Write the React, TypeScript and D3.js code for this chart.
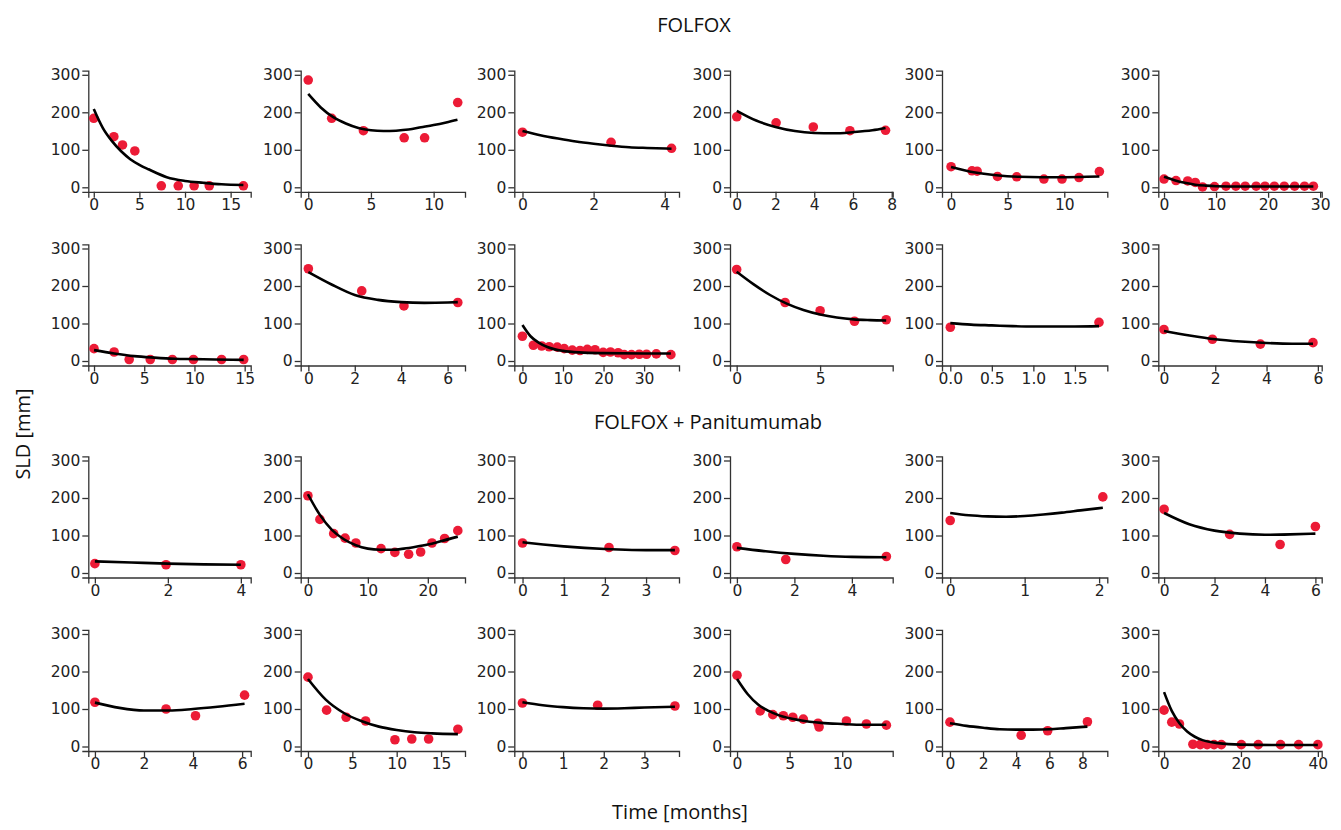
import React, { useEffect, useRef } from 'react';
import * as d3 from 'd3';

// observed SLD per patient (months, mm)
const obsTime = [
  [0, 2.2, 3.15, 4.5, 7.4, 9.26, 11.0, 12.66, 16.4],
  [0, 1.87, 4.4, 7.65, 9.28, 11.92],
  [0, 2.49, 4.19],
  [0, 2.03, 3.95, 5.84, 7.68],
  [0, 1.85, 2.3, 4.1, 5.8, 8.2, 9.8, 11.3, 13.1],
  [0, 2.3, 4.55, 6.0, 7.4, 9.7, 11.9, 13.8, 15.6, 17.7, 19.4, 21.2, 23.1, 25.1, 27, 28.7],
  [0, 2, 3.5, 5.6, 7.8, 9.9, 12.7, 14.9],
  [0, 2.3, 4.12, 6.44],
  [0, 2.7, 4.75, 6.6, 8.6, 10.3, 12.3, 14.2, 16, 17.9, 19.9, 21.7, 23.6, 25.1, 26.9, 28.8, 30.6, 33, 36.6],
  [0, 2.9, 5, 7.06, 8.96],
  [0, 1.79],
  [0, 1.89, 3.76, 5.81],
  [0, 1.95, 4],
  [0, 2, 4.3, 6.2, 8, 12.2, 14.5, 16.8, 18.8, 20.7, 22.8, 25],
  [0, 2.1, 3.7],
  [0, 1.7, 5.2],
  [0, 2.05],
  [0, 2.6, 4.6, 6.0],
  [0, 2.9, 4.1, 6.1],
  [0, 2.1, 4.3, 6.5, 9.8, 11.7, 13.6, 16.9],
  [0, 1.85, 3.75],
  [0, 2.2, 3.4, 4.4, 5.3, 6.3, 7.7, 7.8, 10.4, 12.3, 14.2],
  [0, 4.3, 5.9, 8.3],
  [0, 2, 4, 7.5, 9.4, 11.2, 13, 14.9, 20.1, 24.5, 30.3, 35, 40],
];

const obsSld = [
  [184, 135, 113, 97, 4, 4, 4, 4, 4],
  [286, 184, 151, 132, 132, 226],
  [147, 120, 104],
  [188, 172, 161, 151, 152],
  [55, 44, 43, 29, 28, 22, 22, 26, 42],
  [22, 18, 17, 13, 1, 2, 3, 3, 3, 3, 3, 3, 3, 3, 3, 3],
  [33, 24, 4, 4, 4, 4, 4, 4],
  [246, 187, 147, 156],
  [66, 42, 40, 38, 37, 33, 29, 28, 31, 30, 23, 24, 22, 17, 17, 18, 18, 19, 17],
  [244, 156, 134, 106, 110],
  [90, 103],
  [84, 58, 45, 49],
  [25, 22, 22],
  [206, 143, 105, 93, 80, 65, 55, 50, 56, 80, 92, 113],
  [80, 68, 60],
  [70, 36, 44],
  [140, 203],
  [170, 103, 76, 124],
  [118, 100, 82, 137],
  [185, 97, 78, 68, 18, 20, 20, 46],
  [116, 110, 108],
  [190, 95, 85, 82, 78, 73, 62, 52, 68, 60, 57],
  [65, 30, 42, 66],
  [97, 65, 60, 6, 5, 5, 5, 5, 5, 5, 5, 5, 5],
];

// model fit
const fitTime = [
  [0, 1, 2, 3, 4, 5, 6, 8, 10, 12, 14, 16.4],
  [0, 1, 2, 3, 4, 5, 6, 7, 8, 9, 10, 11, 11.9],
  [0, 0.5, 1, 1.5, 2, 2.5, 3, 3.5, 4.19],
  [0, 1, 2, 3, 4, 5, 6, 7, 7.68],
  [0, 2, 4, 6, 8, 10, 12, 13.1],
  [0, 2, 4, 6, 8, 10, 15, 20, 28.7],
  [0, 2, 4, 6, 8, 10, 12, 14.9],
  [0, 1, 2, 3, 4, 5, 6, 6.44],
  [0, 2, 4, 6, 8, 10, 14, 20, 30, 36.6],
  [0, 1, 2, 3, 4, 5, 6, 7, 8, 8.96],
  [0, 0.25, 0.5, 0.75, 1, 1.25, 1.5, 1.79],
  [0, 1, 2, 3, 4, 5, 5.81],
  [0, 1, 2, 3, 4],
  [0, 2, 4, 6, 8, 10, 12, 14, 16, 18, 20, 22, 25],
  [0, 0.5, 1, 1.5, 2, 2.5, 3, 3.7],
  [0, 1, 2, 3, 4, 5.2],
  [0, 0.25, 0.5, 0.75, 1, 1.25, 1.5, 1.75, 2.05],
  [0, 1, 2, 3, 4, 5, 6],
  [0, 1, 2, 3, 4, 5, 6.1],
  [0, 2, 4, 6, 8, 10, 12, 14, 16.9],
  [0, 0.5, 1, 1.5, 2, 2.5, 3, 3.75],
  [0, 1, 2, 3, 4, 6, 8, 10, 12, 14.2],
  [0, 1, 2, 3, 4, 5, 6, 7, 8.3],
  [0, 2, 4, 6, 8, 10, 14, 20, 30, 40],
];

const fitSld = [
  [209, 158, 123, 96, 75, 60, 48, 27, 17, 12, 8, 6],
  [249, 213, 187, 170, 158, 152, 150, 151, 154, 160, 166, 173, 180],
  [150, 139, 130, 122, 116, 111, 107, 105, 103],
  [204, 178, 161, 150, 145, 144, 147, 152, 158],
  [54, 40, 32, 28, 27, 27, 28, 29],
  [28, 19, 12, 7, 4.5, 3, 2, 2, 2],
  [29, 20, 13, 9, 6, 5, 4, 3],
  [237, 204, 176, 163, 157, 155, 156, 157],
  [96, 66, 49, 38, 31, 27, 23, 21, 20, 20],
  [238, 205, 176, 153, 136, 124, 116, 111, 109, 108],
  [101, 97, 95, 93, 92, 92, 92, 93],
  [80, 68, 58, 52, 48, 46, 46],
  [31, 28, 25, 23, 22],
  [210, 155, 115, 90, 74, 65, 62, 62, 65, 70, 76, 84, 97],
  [82, 76, 71, 67, 64, 62, 61, 61],
  [67, 58, 51, 46, 43, 42],
  [160, 154, 151, 150, 152, 156, 161, 167, 174],
  [160, 130, 113, 105, 102, 103, 105],
  [117, 103, 96, 96, 100, 106, 114],
  [180, 125, 90, 68, 53, 44, 38, 35, 33],
  [118, 110, 105, 102, 101, 102, 104, 106],
  [180, 140, 112, 95, 83, 70, 63, 60, 58, 58],
  [62, 55, 50, 46, 45, 45, 46, 49, 53],
  [145, 95, 62, 40, 26, 17, 9, 5, 4, 4],
];

const xTicks = [
  [0, 5, 10, 15], [0, 5, 10], [0, 2, 4], [0, 2, 4, 6, 8], [0, 5, 10], [0, 10, 20, 30],
  [0, 5, 10, 15], [0, 2, 4, 6], [0, 10, 20, 30], [0, 5], [0, 0.5, 1, 1.5], [0, 2, 4, 6],
  [0, 2, 4], [0, 10, 20], [0, 1, 2, 3], [0, 2, 4], [0, 1, 2], [0, 2, 4, 6],
  [0, 2, 4, 6], [0, 5, 10, 15], [0, 1, 2, 3], [0, 5, 10], [0, 2, 4, 6, 8], [0, 20, 40],
];

const xDomain = [
  [-0.6, 17.2], [-0.6, 12.5], [-0.23, 4.4], [-0.35, 8.05], [-0.8, 13.8], [-1.1, 30.3],
  [-0.57, 15.6], [-0.33, 6.75], [-2, 38.6], [-0.4, 9.35], [-0.1, 1.89], [-0.22, 6.15],
  [-0.18, 4.27], [-1.2, 26.2], [-0.2, 3.8], [-0.24, 5.42], [-0.11, 2.11], [-0.23, 6.25],
  [-0.27, 6.35], [-0.82, 17.7], [-0.2, 3.85], [-0.67, 14.8], [-0.48, 9.5], [-1.5, 41],
];

const yTicks = [0, 100, 200, 300];
const yDomain = [-12, 311];

// layout
const colLeft = [88.3, 300.7, 514.3, 730, 942, 1158.3];
const colRight = [250.7, 465, 679, 892.7, 1107.3, 1321.7];
const rowZero = [187.3, 361, 573, 746.5];
const pxPerUnit = 0.375;

const App = () => {
  const svgRef = useRef(null);

  useEffect(() => {
    const svg = d3.select(svgRef.current);
    svg.selectAll('*').remove();

    const tickFont = 'DejaVu Sans, Arial, sans-serif';
    const titleFont = 'Open Sans, Noto Sans, sans-serif';

    obsTime.forEach((times, i) => {
      const row = Math.floor(i / 6);
      const col = i % 6;

      const x = d3.scaleLinear()
        .domain(xDomain[i])
        .range([colLeft[col], colRight[col]]);

      const zero = rowZero[row];
      const y = d3.scaleLinear()
        .domain(yDomain)
        .range([zero - yDomain[0] * pxPerUnit, zero - yDomain[1] * pxPerUnit]);

      const g = svg.append('g');

      const decimals = xTicks[i].some(t => !Number.isInteger(t));
      const fmt = decimals ? d3.format('.1f') : d3.format('d');

      const xAxis = g.append('g')
        .attr('transform', `translate(0,${y(yDomain[0])})`)
        .call(d3.axisBottom(x).tickValues(xTicks[i]).tickSize(6).tickPadding(1).tickFormat(fmt));

      const yAxis = g.append('g')
        .attr('transform', `translate(${colLeft[col]},0)`)
        .call(d3.axisLeft(y).tickValues(yTicks).tickSize(6).tickPadding(2).tickFormat(d3.format('d')));

      [xAxis, yAxis].forEach(ax => {
        ax.selectAll('path, line').attr('stroke', '#333').attr('stroke-width', 1.3);
        ax.selectAll('text')
          .attr('fill', '#222')
          .style('font-family', tickFont)
          .style('font-size', '15.5px');
      });

      // observed points
      g.selectAll('.pt')
        .data(times.map((t, k) => ({ t, v: obsSld[i][k] })))
        .enter().append('circle')
        .attr('class', 'pt')
        .attr('cx', d => x(d.t))
        .attr('cy', d => y(d.v))
        .attr('r', 4.8)
        .attr('fill', '#ec1b36');

      // fitted curve
      const line = d3.line()
        .x(d => x(d.t))
        .y(d => y(d.v))
        .curve(d3.curveMonotoneX);

      g.append('path')
        .datum(fitTime[i].map((t, k) => ({ t, v: fitSld[i][k] })))
        .attr('fill', 'none')
        .attr('stroke', '#000')
        .attr('stroke-width', 2.6)
        .attr('d', line);
    });

    const addText = (txt, x, y, rotate = false) => {
      svg.append('text')
        .attr('x', x)
        .attr('y', y)
        .attr('text-anchor', 'middle')
        .attr('dominant-baseline', 'central')
        .attr('transform', rotate ? `rotate(-90,${x},${y})` : null)
        .style('font-family', titleFont)
        .style('font-size', '20px')
        .attr('fill', '#111')
        .text(txt);
    };

    addText('FOLFOX', 694, 24);
    addText('FOLFOX + Panitumumab', 708, 421);
    addText('SLD [mm]', 22, 434, true);
    addText('Time [months]', 680, 811);
  }, []);

  return (
    <svg
      ref={svgRef}
      width={1341}
      height={830}
      style={{ position: 'absolute', left: 0, top: 0, background: '#fff' }}
    />
  );
};

export default App;
